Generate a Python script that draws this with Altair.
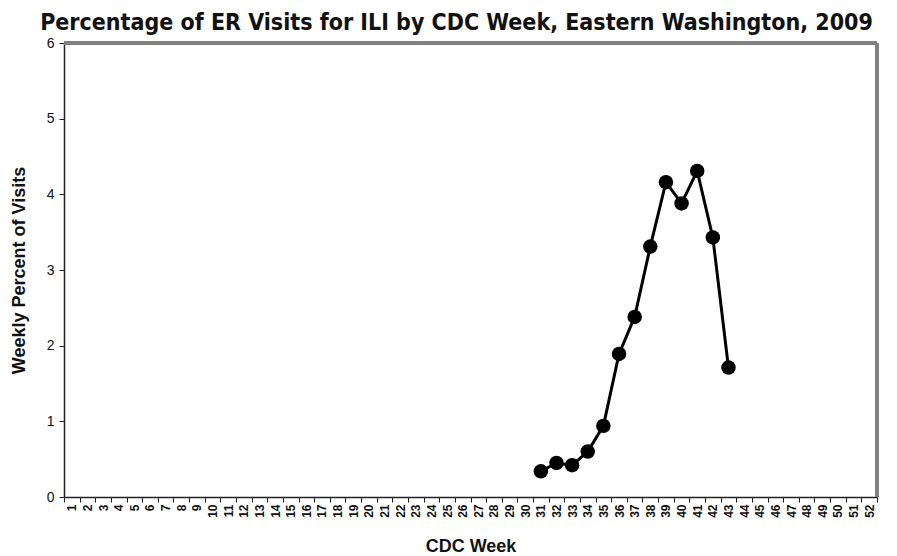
import altair as alt
import pandas as pd

weeks_all = list(range(1, 53))
weeks = [31, 32, 33, 34, 35, 36, 37, 38, 39, 40, 41, 42, 43]
pct = [0.34, 0.45, 0.42, 0.60, 0.94, 1.89, 2.38, 3.31, 4.16, 3.88, 4.31, 3.43, 1.71]

df = pd.DataFrame({"week": weeks, "pct": pct})

W, H = 813, 454

x = alt.X(
    "week:O",
    scale=alt.Scale(domain=weeks_all, paddingInner=0, paddingOuter=0),
    axis=alt.Axis(
        title="CDC Week",
        labelAngle=270,
        labelFontSize=12,
        labelFontWeight="bold",
        labelFont="Liberation Sans",
        labelColor="#111",
        labelPadding=2,
        tickBand="extent",
        tickSize=5,
        tickColor="#222",
        domainColor="#222",
        domainWidth=1.5,
        titleFont="Liberation Sans",
        titleFontSize=18,
        titleFontWeight="bold",
        titleColor="#111",
        titleY=54,
        titleBaseline="alphabetic",
        grid=False,
    ),
)
y = alt.Y(
    "pct:Q",
    scale=alt.Scale(domain=[0, 6]),
    axis=alt.Axis(
        title="Weekly Percent of Visits",
        values=[0, 1, 2, 3, 4, 5, 6],
        labelFontSize=14,
        labelFont="Liberation Sans",
        labelColor="#111",
        labelPadding=5,
        tickSize=5,
        tickColor="#222",
        domainColor="#222",
        domainWidth=1.5,
        titleFont="Liberation Sans",
        titleFontSize=18,
        titleFontWeight="bold",
        titleColor="#111",
        titleX=-36,
        titleY=227,
        titleAngle=270,
        titleBaseline="bottom",
        grid=False,
    ),
)

top_rule = alt.Chart(df).mark_rule(color="#808080", strokeWidth=3).encode(
    x=alt.value(0), x2=alt.value(W), y=alt.value(0)
)
right_rule = alt.Chart(df).mark_rule(color="#808080", strokeWidth=3).encode(
    x=alt.value(W), y=alt.value(0), y2=alt.value(H)
)
line = alt.Chart(df).mark_line(color="black", strokeWidth=3).encode(x=x, y=y)
pts = alt.Chart(df).mark_point(filled=True, color="black", size=210, opacity=1).encode(x=x, y=y)

chart = (
    (top_rule + right_rule + line + pts)
    .properties(
        width=W,
        height=H,
        autosize=alt.AutoSizeParams(type="none"),
        padding={"left": 56, "top": 35, "right": 12, "bottom": 60},
        title=alt.TitleParams(
            "Percentage of ER Visits for ILI by CDC Week, Eastern Washington, 2009",
            font="'DejaVu Sans Condensed', 'Liberation Sans', sans-serif",
            fontSize=23,
            fontWeight="bold",
            color="#111",
            anchor="middle",
            offset=1,
            dx=-14,
        ),
    )
    .configure_view(stroke=None)
    .configure(background="white")
)

chart.save("out.html", embed_options={"renderer": "svg", "actions": False})
